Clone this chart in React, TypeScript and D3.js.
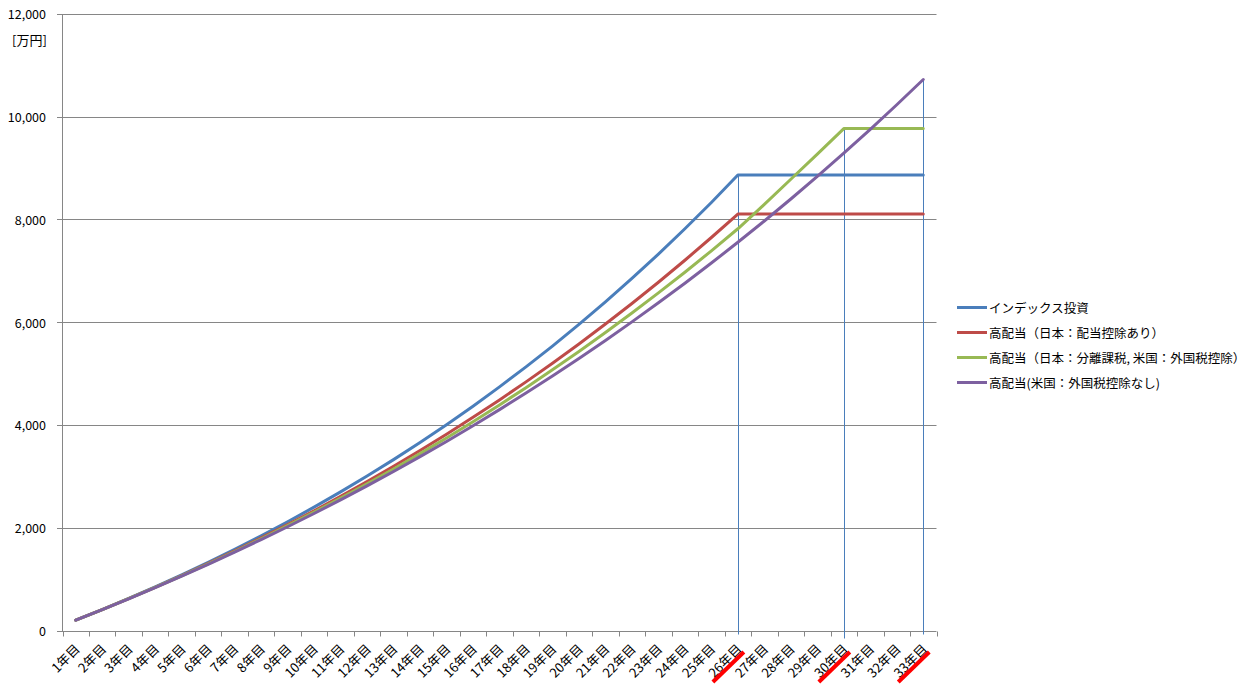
import React from "react";
import * as d3 from "d3";

const categories = [
  "1年目", "2年目", "3年目", "4年目", "5年目", "6年目", "7年目", "8年目", "9年目", "10年目",
  "11年目", "12年目", "13年目", "14年目", "15年目", "16年目", "17年目", "18年目", "19年目", "20年目",
  "21年目", "22年目", "23年目", "24年目", "25年目", "26年目", "27年目", "28年目", "29年目", "30年目",
  "31年目", "32年目", "33年目",
];

const indexFund = [200, 408, 624, 849, 1083, 1327, 1580, 1843, 2117, 2401, 2697, 3005, 3325, 3658, 4005, 4365, 4740, 5129, 5534, 5956, 6394, 6850, 7324, 7817, 8329, 8862, 8862, 8862, 8862, 8862, 8862, 8862, 8862];
const highDivJp = [200, 407, 620, 841, 1070, 1305, 1549, 1801, 2062, 2331, 2610, 2897, 3195, 3502, 3820, 4148, 4487, 4838, 5201, 5575, 5963, 6363, 6777, 7205, 7647, 8104, 8104, 8104, 8104, 8104, 8104, 8104, 8104];
const highDivSep = [200, 406, 619, 838, 1064, 1297, 1537, 1785, 2040, 2303, 2575, 2855, 3143, 3441, 3747, 4063, 4389, 4725, 5072, 5429, 5797, 6177, 6569, 6972, 7388, 7817, 8290, 8780, 9270, 9767, 9767, 9767, 9767];
const highDivUs = [200, 406, 617, 835, 1059, 1289, 1526, 1769, 2019, 2277, 2542, 2814, 3095, 3383, 3679, 3984, 4298, 4620, 4952, 5293, 5644, 6005, 6376, 6757, 7150, 7554, 7969, 8396, 8835, 9287, 9752, 10230, 10721];

const seriesNames = [
  "インデックス投資",
  "高配当（日本：配当控除あり）",
  "高配当（日本：分離課税, 米国：外国税控除）",
  "高配当(米国：外国税控除なし)",
];
const seriesColors = ["#4A7EBB", "#BE4B48", "#98B954", "#7D60A0"];
const seriesValues = [indexFund, highDivJp, highDivSep, highDivUs];

const yTicks = [0, 2000, 4000, 6000, 8000, 10000, 12000];
const markedCategories = ["26年目", "30年目", "33年目"];
const dropExtend = [4, 8, 4];

const W = 1259;
const H = 689;
const FONT = "'Noto Sans CJK JP', 'Noto Sans', sans-serif";

export default function App() {
  const x = d3.scaleBand<string>().domain(categories).range([62.5, 936.5]).paddingInner(0).paddingOuter(0);
  const bw = x.bandwidth();
  const cx = (c: string) => (x(c) as number) + bw / 2;
  const y = d3.scaleLinear().domain([0, 12000]).range([630.5, 13.8]);
  const fmt = d3.format(",");
  const line = d3
    .line<number>()
    .x((_, i) => cx(categories[i]))
    .y((d) => y(d));

  const boundaries = categories.map((c) => x(c) as number).concat([936.5]);
  const gridColor = "#868686";

  return (
    <div style={{ position: "absolute", left: 0, top: 0, width: W, height: H, background: "#fff" }}>
      <svg width={W} height={H} style={{ display: "block", fontFamily: FONT }}>
        <rect x={0} y={0} width={W} height={H} fill="#fff" />
        {yTicks.map((t) => (
          <g key={t}>
            <line x1={57} x2={936.5} y1={Math.round(y(t)) + 0.5} y2={Math.round(y(t)) + 0.5} stroke={gridColor} strokeWidth={1} />
            <text x={46} y={y(t)} textAnchor="end" dominantBaseline="central" fontSize={12.5} fill="#000">
              {fmt(t)}
            </text>
          </g>
        ))}
        <line x1={62.5} x2={62.5} y1={Math.round(y(12000)) + 0.5} y2={Math.round(y(0)) + 0.5} stroke={gridColor} />
        {boundaries.map((b, i) => (
          <line key={i} x1={Math.round(b) + 0.5} x2={Math.round(b) + 0.5} y1={Math.round(y(0)) + 0.5} y2={Math.round(y(0)) + 5.5} stroke={gridColor} />
        ))}
        <text x={12} y={39} dominantBaseline="central" fontSize={13} fill="#000">
          [万円]
        </text>
        {markedCategories.map((c, i) => {
          const idx = categories.indexOf(c);
          const top = d3.max(seriesValues, (s) => s[idx]) as number;
          return (
            <line
              key={c}
              x1={Math.round(cx(c)) + 0.5}
              x2={Math.round(cx(c)) + 0.5}
              y1={y(top)}
              y2={y(0) + dropExtend[i]}
              stroke="#4A7EBB"
              strokeWidth={1}
            />
          );
        })}
        {seriesValues.map((s, i) => (
          <path key={i} d={line(s) || ""} fill="none" stroke={seriesColors[i]} strokeWidth={3} strokeLinejoin="round" strokeLinecap="round" />
        ))}
        {categories.map((c) => (
          <text
            key={c}
            transform={`translate(${cx(c) + 1},646) rotate(-45)`}
            textAnchor="end"
            dominantBaseline="central"
            fontSize={13}
            fill="#000"
          >
            {c}
          </text>
        ))}
        {markedCategories.map((c) => (
          <line key={c} x1={cx(c) - 25} y1={682} x2={cx(c) + 6} y2={652} stroke="#FF0000" strokeWidth={4} />
        ))}
        {seriesNames.map((n, i) => (
          <g key={n}>
            <line x1={957} x2={987} y1={307.5 + i * 25} y2={307.5 + i * 25} stroke={seriesColors[i]} strokeWidth={3} />
            <text x={989} y={307.5 + i * 25} dominantBaseline="central" fontSize={12.5} fill="#000">
              {n}
            </text>
          </g>
        ))}
      </svg>
    </div>
  );
}
